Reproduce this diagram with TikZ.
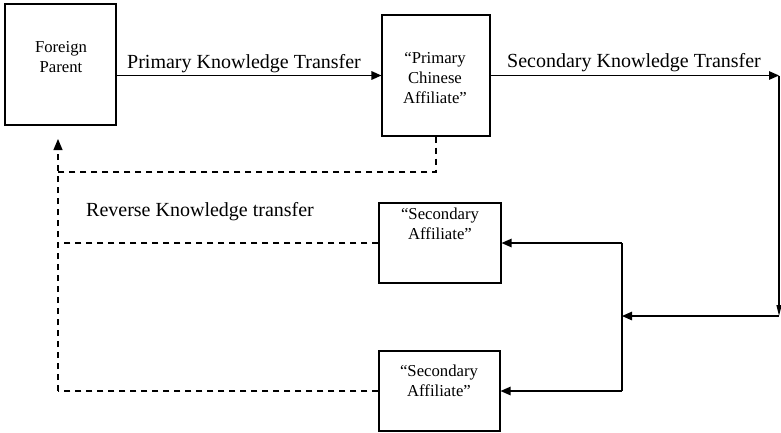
\documentclass[tikz,border=0pt]{standalone}
\usepackage{fontspec}
\setmainfont{Liberation Serif}
\usetikzlibrary{arrows.meta}
\begin{document}
\begin{tikzpicture}[x=1pt,y=-1pt,
  boxnode/.style={draw, line width=1.1pt, rectangle, inner sep=0pt},
  boxtext/.style={align=center, inner sep=0pt, font=\fontsize{16.7}{20}\selectfont},
  lbl/.style={anchor=base west, inner sep=0pt, font=\fontsize{20}{24}\selectfont},
  flow/.style={line width=1.2pt, -{Triangle[length=10pt,width=8.5pt]}},
  plain/.style={line width=1.2pt},
  narrowtip/.style={line width=1.2pt, -{Triangle[length=11pt,width=5pt]}},
  back/.style={line width=1.1pt, dash pattern=on 6pt off 5pt}]
\useasboundingbox (0,0) rectangle (781,432);

% boxes
\node[boxnode, minimum width=111pt, minimum height=121pt] (fp)  at (60.5,64.5) {};
\node[boxnode, minimum width=108pt, minimum height=121pt] (pca) at (436,75.5) {};
\node[boxnode, minimum width=122pt, minimum height=80pt]  (sa1) at (440,243) {};
\node[boxnode, minimum width=121pt, minimum height=80pt]  (sa2) at (439.5,391) {};

% box texts
\node[boxtext] (fpt)  at (61,57)    {Foreign\\Parent};
\node[boxtext] (pcat) at (435,78.5) {“Primary\\Chinese\\Affiliate”};
\node[boxtext] (sa1t) at (440,224)  {“Secondary\\Affiliate”};
\node[boxtext] (sa2t) at (439,381)  {“Secondary\\Affiliate”};

% labels
\node[lbl] (lp) at (127,68)  {Primary Knowledge Transfer};
\node[lbl] (ls) at (507,67)  {Secondary Knowledge Transfer};
\node[lbl] (lr) at (86,216)  {Reverse Knowledge transfer};

% routing points
\coordinate (tr) at (779,75.5);
\coordinate (br) at (779,316);
\coordinate (split) at (622,316);
\coordinate (lt) at (58,139);
\coordinate (lb) at (58,390);
\coordinate (lm) at (58,172);

% primary and secondary transfer
\draw[flow, line width=1.6pt] (fp.east |- pca.west) -- (pca.west);
\draw[flow] (pca.east) -- (tr);
\draw[narrowtip] (tr) -- (br);
\draw[flow] (br) -- (split);
\draw[plain] (split |- sa1.east) -- (split |- sa2.east);
\draw[flow] (split |- sa1.east) -- (sa1.east);
\draw[flow] (split |- sa2.east) -- (sa2.east);

% reverse transfer
\draw[back] (pca.south) |- (lm);
\draw[back] (sa1.west) -- (sa1.west -| lb);
\draw[back] (sa2.west) -- (sa2.west -| lb);
\draw[back, -{Triangle[length=11pt,width=9pt]}] (sa2.west -| lb) -- (lt);
\end{tikzpicture}
\end{document}
